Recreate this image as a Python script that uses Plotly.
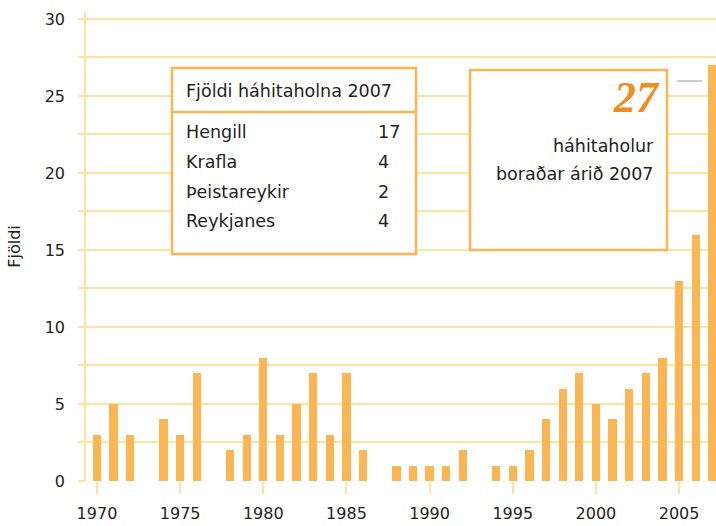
import plotly.graph_objects as go

# holes drilled per year
years = list(range(1970, 2008))
holes = [3, 5, 3, 0, 4, 3, 7, 0, 2, 3,
         8, 3, 5, 7, 3, 7, 2, 0, 1, 1,
         1, 1, 2, 0, 1, 1, 2, 4, 6, 7,
         5, 4, 6, 7, 8, 13, 16, 27]

y_ticks = [0, 5, 10, 15, 20, 25, 30]
x_ticks = [1970, 1975, 1980, 1985, 1990, 1995, 2000, 2005]

table_title = "Fjöldi háhitaholna 2007"
fields = ["Hengill", "Krafla", "Þeistareykir", "Reykjanes"]
field_counts = [17, 4, 2, 4]

total_2007 = 27
total_text = ["háhitaholur", "boraðar árið 2007"]

BAR = "#FBB552"
GRID = "#FDE3A0"
BOX = "#FBB552"
TXT = "#231F20"
FONT = "DejaVu Sans"

# plot area in pixels, used to place the boxes in paper coords
L, R, T, B = 86, 716, 12, 481
def px(x):
    return (x - L) / (R - L)
def py(y):
    return (B - y) / (B - T)

fig = go.Figure(go.Bar(
    x=years, y=holes, width=0.5,
    marker=dict(color=BAR, line=dict(width=0)),
))

shapes = [
    dict(type="rect", xref="paper", yref="paper", x0=px(172), x1=px(416), y0=py(254), y1=py(68),
         line=dict(color=BOX, width=2.5), fillcolor="white", layer="above"),
    dict(type="line", xref="paper", yref="paper", x0=px(172), x1=px(416), y0=py(112), y1=py(112),
         line=dict(color=BOX, width=2.5), layer="above"),
    dict(type="rect", xref="paper", yref="paper", x0=px(470), x1=px(667), y0=py(250), y1=py(70),
         line=dict(color=BOX, width=2.5), fillcolor="white", layer="above"),
    dict(type="line", xref="paper", yref="paper", x0=px(677), x1=px(702), y0=py(81), y1=py(81),
         line=dict(color="#9A9A9A", width=1), layer="above"),
]

ann = [dict(text=table_title, x=px(184), y=py(91), xanchor="left", yanchor="middle")]
row_y = [132, 162, 192, 221]
for name, n, yy in zip(fields, field_counts, row_y):
    ann.append(dict(text=name, x=px(184), y=py(yy), xanchor="left", yanchor="middle"))
    ann.append(dict(text=str(n), x=px(376), y=py(yy), xanchor="left", yanchor="middle"))
ann.append(dict(text="<b><i>%d</i></b>" % total_2007, x=px(662), y=py(98), xanchor="right",
                yanchor="middle", font=dict(family="Liberation Serif", size=44, color="#F28C1E")))
for t, yy in zip(total_text, [146, 174]):
    ann.append(dict(text=t, x=px(656), y=py(yy), xanchor="right", yanchor="middle"))
for a in ann:
    a.update(xref="paper", yref="paper", showarrow=False)
    a.setdefault("font", dict(family=FONT, size=17.5, color=TXT))

fig.update_layout(
    width=716, height=526,
    margin=dict(l=L, r=716 - R, t=T, b=526 - B),
    plot_bgcolor="white", paper_bgcolor="white",
    showlegend=False, bargap=0,
    font=dict(family=FONT, size=16, color=TXT),
    shapes=shapes, annotations=ann,
    xaxis=dict(range=[1969.34, 2007.22], tickvals=x_ticks, showgrid=False, zeroline=False,
               automargin=False,
               ticks="outside", ticklen=12, tickcolor=GRID, tickwidth=1.5,
               ticklabelstandoff=6,
               tickfont=dict(size=16, color=TXT), showline=False),
    yaxis=dict(range=[0, 30.45], tickvals=y_ticks, showgrid=True, gridcolor=GRID, gridwidth=1.5,
               automargin=False,
               zeroline=False, showline=True, linecolor=GRID, linewidth=1.5,
               ticks="outside", ticklen=6, tickcolor=GRID, tickwidth=1.5,
               ticklabelstandoff=10,
               minor=dict(dtick=2.5, showgrid=True, gridcolor=GRID, gridwidth=1.5,
                          ticks="outside", ticklen=6, tickcolor=GRID),
               tickfont=dict(size=16, color=TXT),
               title=dict(text="Fjöldi", font=dict(size=16, color=TXT), standoff=20)),
)

# the page's default body margin would shift the chart by 8px
fig.write_html("out.html", config={"displayModeBar": False},
               post_script="document.body.style.margin='0';")
